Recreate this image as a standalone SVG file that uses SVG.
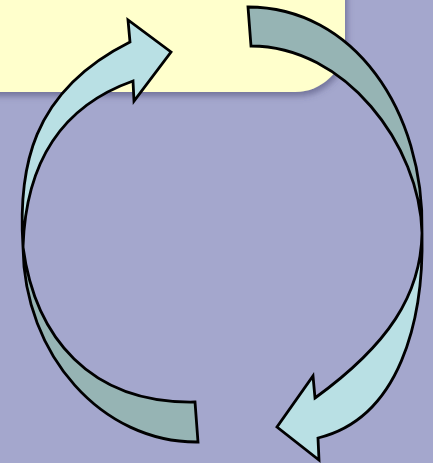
<svg xmlns="http://www.w3.org/2000/svg" width="433" height="463" viewBox="0 0 433 463">
  <defs>
    <filter id="shadow" x="-20%" y="-20%" width="140%" height="160%">
      <feDropShadow dx="2" dy="4" stdDeviation="3" flood-color="#4a4a70" flood-opacity="0.55"/>
    </filter>
  </defs>
  <style>
    .front { fill: #B9E0E4; stroke: #000; stroke-width: 2.8; stroke-linejoin: miter; }
    .back { fill: #96B4B4; stroke: #000; stroke-width: 2.8; stroke-linejoin: miter; }
  </style>
  <rect id="background" x="0" y="0" width="433" height="463" fill="#A4A7CD"/>
  <g id="box">
    <rect x="-60" y="-60" width="405" height="152" rx="50" ry="50" fill="#FFFFCC" filter="url(#shadow)"/>
  </g>
  <g id="connectors">
    <g id="arrow-left">
      <path class="back" d="M 23,247 C 24,355 102,443 198,442 L 195,402 C 90,404 35,337 23,247 Z"/>
      <path class="front" d="M 23,247 C 18,170 30,92 130,42 L 128,20 L 171,52 L 134,101 L 133,81 C 45,112 25,185 23,247 Z"/>
    </g>
    <g id="arrow-right">
      <path class="back" d="M 248,7 C 353,7 425,110 422,233 C 420,145 345,46 251,46 Z"/>
      <path class="front" d="M 422,233 C 424,320 400,418 318,438 L 319,460 L 277,427 L 313,376 L 315,398 C 388,345 421,295 422,233 Z"/>
    </g>
  </g>
</svg>
